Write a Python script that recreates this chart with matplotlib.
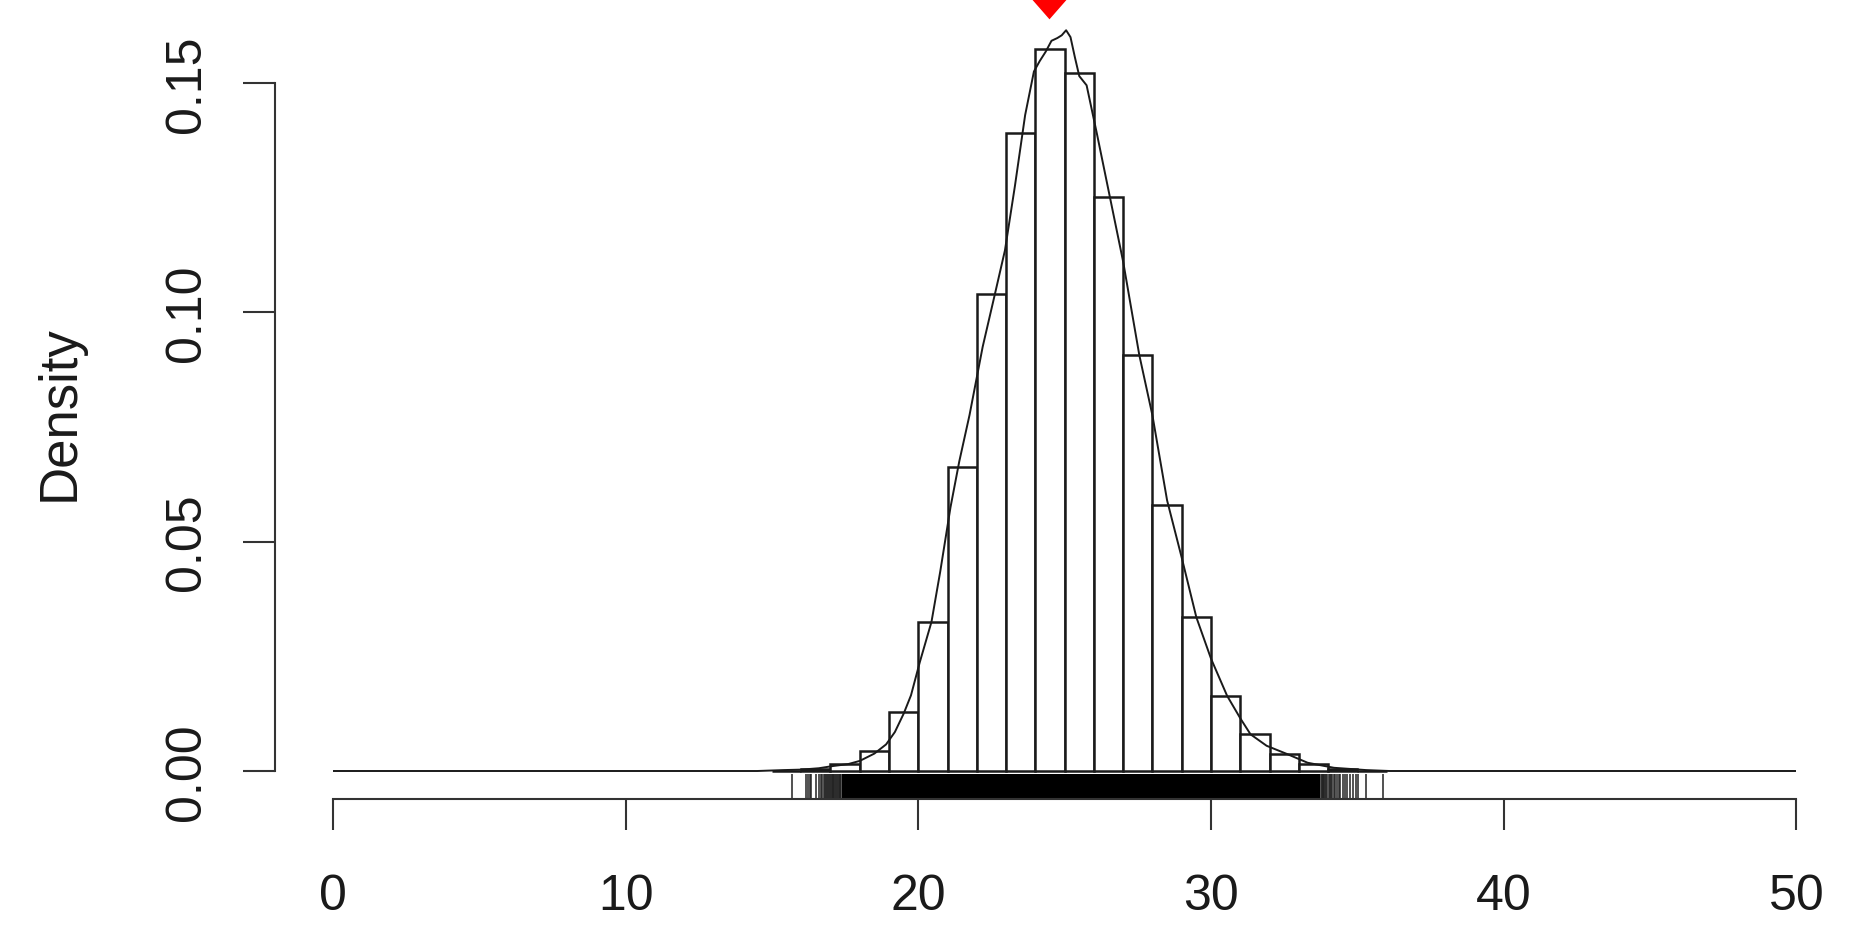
import matplotlib
matplotlib.use("Agg")
import matplotlib.pyplot as plt

# histogram (density scale), unit-width bins
bin_edges = list(range(15, 37))
bin_density = [0.0001, 0.0005, 0.0015, 0.0044, 0.0128, 0.0325, 0.0663, 0.1039,
               0.1392, 0.1574, 0.1521, 0.1252, 0.0907, 0.0579, 0.0335, 0.0164,
               0.0080, 0.0037, 0.0015, 0.0005, 0.0001]

# kernel density curve
dens_x = [0, 14.5, 15.4, 16.0, 16.6, 17.1, 17.6, 18.0, 18.5, 18.9, 19.2, 19.5,
          19.75, 20.05, 20.45, 20.75, 21.1, 21.4, 21.75, 22.2, 22.6, 22.96,
          23.3, 23.65, 23.95, 24.15, 24.35, 24.55, 24.75, 24.9, 25.05, 25.2,
          25.35, 25.5, 25.75, 26.1, 26.55, 27.0, 27.55, 28.0, 28.5, 29.0,
          29.5, 30.0, 30.55, 31.0, 31.35, 31.9, 32.6, 33.3, 34.2, 35.3, 36.1, 50]
dens_y = [0, 0, 0.0002, 0.0003, 0.0006, 0.0011, 0.0015, 0.0022, 0.0038, 0.0058,
          0.0085, 0.0125, 0.0165, 0.0237, 0.0325, 0.0435, 0.0575, 0.0675,
          0.0776, 0.0925, 0.1035, 0.1135, 0.1275, 0.1430, 0.1525, 0.1548,
          0.1568, 0.1592, 0.1598, 0.1604, 0.1615, 0.1600, 0.1556, 0.1515,
          0.1495, 0.1390, 0.1250, 0.1110, 0.0907, 0.0775, 0.0590, 0.0465,
          0.0335, 0.0245, 0.0164, 0.0115, 0.0080, 0.0055, 0.0037, 0.0018,
          0.0007, 0.0002, 0.0, 0.0]

# rug: dense core plus the individual ticks at both ends
rug_core = (17.4, 33.72)
rug_ticks = [15.67, 16.18, 16.24, 16.29, 16.35, 16.52, 16.6, 16.66, 16.72,
             16.77, 16.81, 16.85, 16.89, 16.92, 16.95, 16.98, 17.01, 17.04,
             17.07, 17.1, 17.13, 17.16, 17.19, 17.22, 17.25, 17.28, 17.31,
             17.34, 17.37, 33.75, 33.78, 33.81, 33.84, 33.87, 33.9, 33.94,
             33.98, 34.02, 34.06, 34.1, 34.15, 34.2, 34.25, 34.3, 34.36,
             34.42, 34.5, 34.58, 34.66, 34.75, 34.86, 34.95, 35.03, 35.28,
             35.86]

marker_x = 24.46

x_ticks = [0, 10, 20, 30, 40, 50]
y_ticks = [0.00, 0.05, 0.10, 0.15]
y_tick_labels = ["0.00", "0.05", "0.10", "0.15"]

plt.rcParams["font.family"] = ["Liberation Sans", "DejaVu Sans"]
ink = "#1a1a1a"

fig = plt.figure(figsize=(18.61, 9.28), dpi=100)
ax = fig.add_axes([0.17888, 0.13793, 0.78641, 0.84052])
ax.set_xlim(0, 50)
ax.set_ylim(-0.0061046, 0.163952)

widths = [b - a for a, b in zip(bin_edges[:-1], bin_edges[1:])]
ax.bar(bin_edges[:-1], bin_density, width=widths, align="edge",
       facecolor="white", edgecolor=ink, linewidth=1.8, zorder=2)
ax.plot(dens_x, dens_y, color=ink, linewidth=1.4, zorder=3)

# rug along the bottom, 3% of the plot height
ax.axvspan(rug_core[0], rug_core[1], ymin=0, ymax=0.032, color="black",
           linewidth=0, zorder=2)
ax.vlines(rug_ticks, 0, 0.032, transform=ax.get_xaxis_transform(),
          color="#222222", linewidth=1.1, zorder=2)

# red pointer above the peak
tri = [(0, -0.571), (-1, 0.571), (1, 0.571)]
ax.plot([marker_x], [1.0256], marker=tri, markersize=50, color="#ff0000",
        markeredgewidth=0, transform=ax.get_xaxis_transform(), clip_on=False,
        zorder=5)

for side in ["top", "right"]:
    ax.spines[side].set_visible(False)
ax.spines["left"].set_position(("outward", 41.7))
ax.spines["left"].set_bounds(0, 0.15)
ax.spines["bottom"].set_bounds(0, 50)
for side in ["left", "bottom"]:
    ax.spines[side].set_color("#333333")
    ax.spines[side].set_linewidth(1.5)

ax.set_xticks(x_ticks)
ax.set_xticklabels([str(t) for t in x_ticks])
ax.set_yticks(y_ticks)
ax.set_yticklabels(y_tick_labels, va="center")
ax.tick_params(axis="x", length=22, width=1.5, color="#333333", pad=31,
               labelsize=36, labelcolor=ink)
ax.tick_params(axis="y", length=23, width=1.5, color="#333333", pad=24,
               labelsize=36, labelcolor=ink, labelrotation=90)

fig.text(60 / 1861, 0.5552, "Density", rotation=90, ha="center", va="center",
         fontsize=38, color=ink)

fig.savefig("out.png", dpi=100, facecolor="white")
